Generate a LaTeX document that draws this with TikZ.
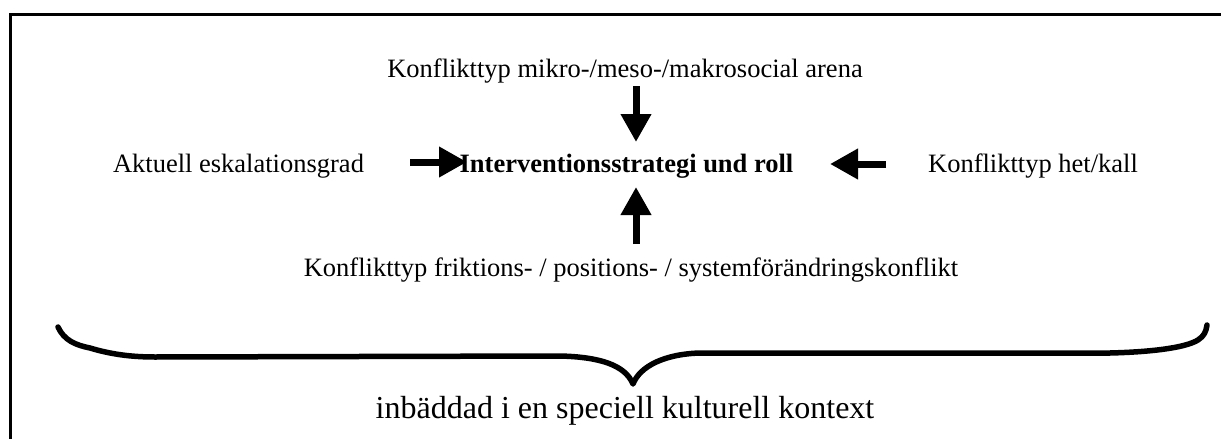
\documentclass[tikz,border=0pt]{standalone}
\usepackage{fontspec}
\setmainfont{Liberation Serif}
\usetikzlibrary{arrows.meta}
\begin{document}
\begin{tikzpicture}[x=1pt,y=-1pt,
  lbl/.style={inner sep=0pt,font=\fontsize{26.5}{30}\selectfont},
  ctrlbl/.style={inner sep=0pt,font=\fontsize{26.5}{30}\selectfont\bfseries},
  biglbl/.style={inner sep=0pt,font=\fontsize{32}{36}\selectfont},
  arr/.style={line width=7pt,-{Triangle[length=28pt,width=29pt]}},
  frame/.style={line width=3pt},
  brace/.style={line width=5.5pt,line cap=round,line join=round}]
\useasboundingbox (0,0) rectangle (1221,439);
% frame (cut at right and bottom)
\draw[frame] (10.5,439) -- (10.5,14) -- (1221,14);
% labels
\node[ctrlbl] (ctr) at (626.5,166) {Interventionsstrategi und roll};
\node[lbl] (top) at (625,71) {Konflikttyp mikro-/meso-/makrosocial arena};
\node[lbl] (left) at (238.5,166) {Aktuell eskalationsgrad};
\node[lbl] (right) at (1033,166) {Konflikttyp het/kall};
\node[lbl] (bot) at (631,270) {Konflikttyp friktions- / positions- / systemförändringskonflikt};
\node[biglbl] (ctx) at (625,411) {inbäddad i en speciell kulturell kontext};
% arrows
\coordinate (ttail) at (636,86);
\coordinate (ttip) at (636,142);
\coordinate (btail) at (636,244);
\coordinate (btip) at (636,187);
\coordinate (ltail) at (410,162);
\coordinate (ltip) at (467,162);
\coordinate (rtail) at (886,164);
\coordinate (rtip) at (830,164);
\draw[arr] (ttail) -- (ttip);
\draw[arr] (btail) -- (btip);
\draw[arr] (ltail) -- (ltip);
\draw[arr] (rtail) -- (rtip);
% brace
\coordinate (bl) at (58,327);
\coordinate (bm) at (633,384);
\coordinate (br) at (1207,325);
\draw[brace] (bl) .. controls (64,340) and (75,345) .. (90,348)
  .. controls (110,354) and (130,357) .. (155,357)
  -- (560,356)
  .. controls (600,357) and (625,365) .. (bm)
  .. controls (640,366) and (665,354) .. (700,353)
  -- (1110,353)
  .. controls (1150,352) and (1185,348) .. (1198,340)
  .. controls (1204,336) and (1206,332) .. (br);
\end{tikzpicture}
\end{document}
